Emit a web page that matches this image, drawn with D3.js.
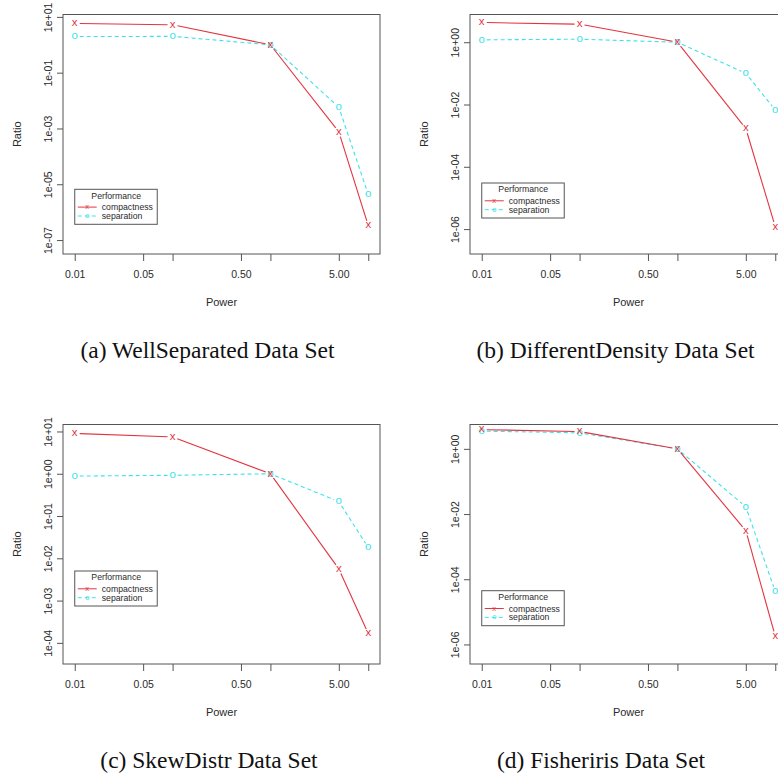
<!DOCTYPE html>
<html>
<head>
<meta charset="utf-8">
<script src="https://cdn.jsdelivr.net/npm/d3@7"></script>
<style>
  html, body { margin: 0; padding: 0; background: #fff; }
  svg { display: block; }
</style>
</head>
<body>
<svg id="chart" width="778" height="778"></svg>
<script>
// ---------------- data ----------------
const powers = [0.01, 0.1, 1, 5, 10];
const xTickValues = [0.01, 0.05, 0.1, 0.5, 1, 5, 10];
const xTickLabels = ["0.01", "0.05", "", "0.50", "", "5.00", ""];

const compactnessWell = [5.8, 5.2, 1, 7.6e-4, 3.3e-7];
const separationWell  = [1.98, 2.0, 1, 5.8e-3, 4.3e-6];
const compactnessDiff = [4.3, 3.8, 1, 1.7e-3, 1.2e-6];
const separationDiff  = [1.19, 1.25, 1, 0.1, 6.7e-3];
const compactnessSkew = [9.0, 7.4, 1, 5.6e-3, 1.67e-4];
const separationSkew  = [0.88, 0.92, 1, 0.22, 0.018];
const compactnessFisher = [3.9, 3.4, 1, 3.1e-3, 1.8e-6];
const separationFisher  = [3.5, 3.1, 1, 0.0167, 4.2e-5];

const yTicksWell   = [1e1, 1e-1, 1e-3, 1e-5, 1e-7];
const yTicksDiff   = [1, 1e-2, 1e-4, 1e-6];
const yTicksSkew   = [1e1, 1, 1e-1, 1e-2, 1e-3, 1e-4];
const yTicksFisher = [1, 1e-2, 1e-4, 1e-6];

const seriesNames = ["compactness", "separation"];
const seriesSymbols = ["x", "o"];
const legendTitle = "Performance";
const xTitle = "Power";
const yTitle = "Ratio";
const captions = ["(a) WellSeparated Data Set", "(b) DifferentDensity Data Set",
                  "(c) SkewDistr Data Set", "(d) Fisheriris Data Set"];

// ---------------- layout ----------------
const RED = "#e3343f", CYAN = "#3ee2e8";
const LINE = "#555", TXT = "#2a2a2a";
const panels = [
  { ox: 0,   oy: 0,   comp: compactnessWell,   sep: separationWell,   yt: yTicksWell,   ylim: [-7.5, 1.086], legY: 174.8, cap: [207.5, 358] },
  { ox: 407, oy: 0,   comp: compactnessDiff,   sep: separationDiff,   yt: yTicksDiff,   ylim: [-6.8, 0.89],  legY: 168.5, cap: [615.5, 358] },
  { ox: 0,   oy: 410, comp: compactnessSkew,   sep: separationSkew,   yt: yTicksSkew,   ylim: [-4.5, 1.165], legY: 146.5, cap: [209, 768] },
  { ox: 407, oy: 410, comp: compactnessFisher, sep: separationFisher, yt: yTicksFisher, ylim: [-6.6, 0.747], legY: 166.2, cap: [601, 768] }
];
const BOX = { left: 63, right: 380, top: 14.5, bottom: 254 };

const svg = d3.select("#chart");
const fmtY = v => {
  const e = Math.round(Math.log10(v));
  return "1e" + (e >= 0 ? "+" : "-") + String(Math.abs(e)).padStart(2, "0");
};

panels.forEach((p, pi) => {
  const L = BOX.left + p.ox, R = BOX.right + p.ox, T = BOX.top + p.oy, B = BOX.bottom + p.oy;
  const pad = 0.04 * 3;
  const x = d3.scaleLog().domain([Math.pow(10, -2 - pad), Math.pow(10, 1 + pad)]).range([L, R]);
  const y = d3.scaleLog().domain([Math.pow(10, p.ylim[0]), Math.pow(10, p.ylim[1])]).range([B, T]);
  const g = svg.append("g");

  // box
  g.append("rect").attr("x", L).attr("y", T).attr("width", R - L).attr("height", B - T)
    .attr("fill", "none").attr("stroke", LINE).attr("stroke-width", 1);

  // x axis
  const xa = g.append("g").attr("transform", `translate(0,${B})`)
    .call(d3.axisBottom(x).tickValues(xTickValues).tickFormat((d, i) => xTickLabels[i]).tickSize(7));
  xa.select(".domain").remove();
  xa.selectAll(".tick line").attr("stroke", LINE);
  xa.selectAll(".tick text").attr("y", 24).attr("dy", 0)
    .attr("font-family", "Liberation Sans, Arial, sans-serif").attr("font-size", 10.5).attr("fill", TXT);

  // y axis
  const ya = g.append("g").attr("transform", `translate(${L},0)`)
    .call(d3.axisLeft(y).tickValues(p.yt).tickFormat(fmtY).tickSize(6));
  ya.select(".domain").remove();
  ya.selectAll(".tick line").attr("stroke", LINE);
  ya.selectAll(".tick text").attr("transform", "rotate(-90)").attr("x", 0).attr("y", -11.5).attr("dy", 0)
    .attr("text-anchor", "middle")
    .attr("font-family", "Liberation Sans, Arial, sans-serif").attr("font-size", 10.5).attr("fill", TXT);

  // axis titles
  g.append("text").attr("x", (L + R) / 2).attr("y", B + 51.5).attr("text-anchor", "middle")
    .attr("font-family", "Liberation Sans, Arial, sans-serif").attr("font-size", 11).attr("fill", TXT).text(xTitle);
  g.append("text").attr("transform", `translate(${L - 42},${(T + B) / 2}) rotate(-90)`).attr("text-anchor", "middle")
    .attr("font-family", "Liberation Sans, Arial, sans-serif").attr("font-size", 11).attr("fill", TXT).text(yTitle);

  const series = [
    { vals: p.comp, color: RED, dash: null, ch: seriesSymbols[0] },
    { vals: p.sep, color: CYAN, dash: "4,3", ch: seriesSymbols[1] }
  ];
  const gap = 5;
  series.slice().reverse().forEach(s => {
    const pts = powers.map((pw, i) => [x(pw), y(s.vals[i])]);
    const segs = [];
    for (let i = 0; i < pts.length - 1; i++) {
      const [x0, y0] = pts[i], [x1, y1] = pts[i + 1];
      const len = Math.hypot(x1 - x0, y1 - y0);
      if (len <= 2 * gap) continue;
      const ux = (x1 - x0) / len, uy = (y1 - y0) / len;
      segs.push([[x0 + ux * gap, y0 + uy * gap], [x1 - ux * gap, y1 - uy * gap]]);
    }
    const line = d3.line();
    g.selectAll(null).data(segs).enter().append("path")
      .attr("d", d => line(d)).attr("fill", "none").attr("stroke", s.color).attr("stroke-width", 1.1)
      .attr("stroke-dasharray", s.dash);
  });
  series.slice().reverse().forEach(s => {
    g.selectAll(null).data(powers).enter().append("text")
      .attr("x", d => x(d)).attr("y", (d, i) => y(s.vals[i]) + 2.9)
      .attr("text-anchor", "middle")
      .attr("font-family", "Liberation Sans, Arial, sans-serif").attr("font-size", 11.5)
      .attr("fill", s.color).text(s.ch);
  });

  // legend
  const lx = x(0.01), ly = T + p.legY, lw = 82.5, lh = 35;
  const lg = g.append("g");
  lg.append("rect").attr("x", lx).attr("y", ly).attr("width", lw).attr("height", lh)
    .attr("fill", "#fff").attr("stroke", LINE).attr("stroke-width", 1);
  lg.append("text").attr("x", lx + 41.5).attr("y", ly + 9.2).attr("text-anchor", "middle")
    .attr("font-family", "Liberation Sans, Arial, sans-serif").attr("font-size", 8.7).attr("fill", TXT).text(legendTitle);
  series.forEach((s, i) => {
    const cy = ly + 17.8 + i * 8.9;
    lg.append("line").attr("x1", lx + 3).attr("x2", lx + 22).attr("y1", cy).attr("y2", cy)
      .attr("stroke", s.color).attr("stroke-width", 1).attr("stroke-dasharray", s.dash);
    lg.append("text").attr("x", lx + 12.5).attr("y", cy + 2).attr("text-anchor", "middle")
      .attr("font-family", "Liberation Sans, Arial, sans-serif").attr("font-size", 7.5).attr("fill", s.color).text(s.ch);
    lg.append("text").attr("x", lx + 27).attr("y", cy + 3).attr("font-family", "Liberation Sans, Arial, sans-serif")
      .attr("font-size", 8.7).attr("fill", TXT).text(seriesNames[i]);
  });

  // caption
  svg.append("text").attr("x", p.cap[0]).attr("y", p.cap[1]).attr("text-anchor", "middle")
    .attr("font-family", "Liberation Serif, Times New Roman, serif").attr("font-size", 23.5).attr("fill", "#111")
    .text(captions[pi]);
});
</script>
</body>
</html>
